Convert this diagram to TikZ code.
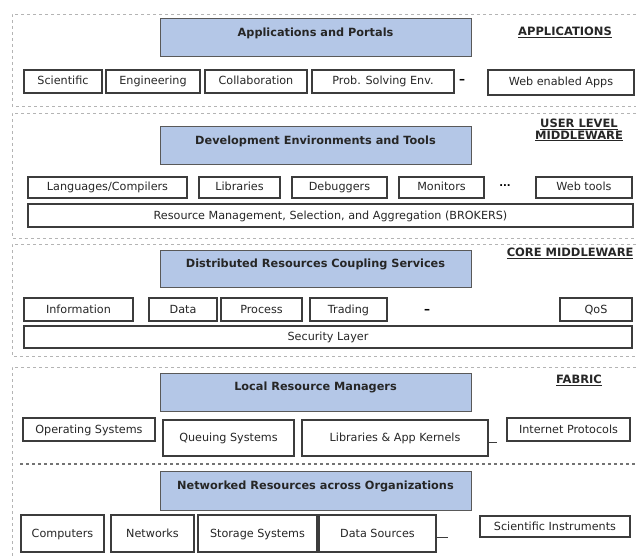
\documentclass[tikz,border=0pt]{standalone}
\usepackage{fontspec}
\setmainfont{DejaVu Sans}
\usetikzlibrary{calc}
\definecolor{layerblue}{HTML}{B4C7E7}
\definecolor{boxgray}{HTML}{3C3C3C}
\definecolor{dashgray}{HTML}{B4B4B4}

\begin{document}
\begin{tikzpicture}[x=1pt,y=-1pt,
    box/.style={draw=boxgray, line width=1.1pt, fill=white, inner sep=0pt,
        text height=9pt, text depth=2pt,
        font=\fontsize{11.2}{13}\selectfont, text=black!85},
    bluebox/.style={draw=boxgray!85, line width=1pt, fill=layerblue, inner sep=0pt,
        minimum width=311pt, minimum height=38pt, text height=8pt, text depth=11pt,
        font=\fontsize{11.3}{13}\selectfont\bfseries, text=black!85},
    layer/.style={draw=dashgray, dashed, line width=0.8pt},
    tag/.style={font=\fontsize{11.5}{13}\selectfont\bfseries, align=center, text=black!85}]

            \useasboundingbox (0,0) rectangle (637,556);

            \draw[layer] (636,14) -| (12,106) -- (636,106);
            \draw[layer] (636,113) -| (12,238) -- (636,238);
            \draw[layer] (636,244) -| (12,356) -- (636,356);
            \draw[layer] (636,367) -| (12,556);
            \draw[dashed, black!55, line width=1.2pt] (20,464) -- (637,464);

            \node[bluebox] (apps) at (315.5,38) {Applications and Portals};
            \node[tag] (tagapps) at (565,32) {\underline{APPLICATIONS}};
            \node[box, minimum width=78pt, minimum height=23pt] (sci) at (63,81.5) {Scientific};
            \node[box, minimum width=94pt, minimum height=23pt] (eng) at (153,81.5) {Engineering};
            \node[box, minimum width=102pt, minimum height=23pt] (collab) at (256,81.5) {Collaboration};
            \node[box, minimum width=142pt, minimum height=23pt] (pse) at (383,81.5) {Prob. Solving Env.};
            \node[font=\fontsize{12}{13}\selectfont\bfseries] (dash1) at (462,81) {--};
            \node[box, minimum width=146pt, minimum height=25pt] (webapps) at (561,82.5) {Web enabled Apps};

            \node[bluebox] (devtools) at (315.5,146) {Development Environments and Tools};
            \node[tag] (taguser) at (579,130) {\underline{USER LEVEL}\\[-1pt]\underline{MIDDLEWARE}};
            \node[box, minimum width=159pt, minimum height=21pt] (lang) at (107.5,187.5) {Languages/Compilers};
            \node[box, minimum width=81pt, minimum height=21pt] (libs) at (239.5,187.5) {Libraries};
            \node[box, minimum width=95pt, minimum height=21pt] (debug) at (339.5,187.5) {Debuggers};
            \node[box, minimum width=85pt, minimum height=21pt] (monit) at (441.5,187.5) {Monitors};
            \node[font=\bfseries] (dots1) at (505,185.5) {...};
            \node[box, minimum width=96pt, minimum height=21pt] (webtools) at (584,187.5) {Web tools};
            \node[box, minimum width=605pt, minimum height=23pt] (brokers) at (330.5,215.5) {Resource Management, Selection, and Aggregation (BROKERS)};

            \node[bluebox, minimum height=37pt] (coupling) at (315.5,268.5) {Distributed Resources Coupling Services};
            \node[tag, anchor=east] (tagcore) at (637,253) {\underline{CORE MIDDLEWARE}};
            \node[box, minimum width=109pt, minimum height=23pt] (info) at (78.5,309.5) {Information};
            \node[box, minimum width=68pt, minimum height=23pt] (data) at (183,309.5) {Data};
            \node[box, minimum width=81pt, minimum height=23pt] (proc) at (261.5,309.5) {Process};
            \node[box, minimum width=77pt, minimum height=23pt] (trade) at (348.5,309.5) {Trading};
            \node[font=\fontsize{12}{13}\selectfont\bfseries] (dash2) at (427,311) {--};
            \node[box, minimum width=72pt, minimum height=23pt] (qos) at (596,309.5) {QoS};
            \node[box, minimum width=608pt, minimum height=22pt] (secur) at (328,337) {Security Layer};

            \node[bluebox] (localrm) at (315.5,392) {Local Resource Managers};
            \node[tag] (tagfabric) at (579,380) {\underline{FABRIC}};
            \node[box, minimum width=132pt, minimum height=23pt] (opsys) at (89,429.5) {Operating Systems};
            \node[box, minimum width=131pt, minimum height=36pt] (queue) at (228.5,438) {Queuing Systems};
            \node[box, minimum width=186pt, minimum height=36pt] (kernels) at (395,438) {Libraries \& App Kernels};
            \coordinate (kend) at (497,442);
            \draw[boxgray, line width=1pt] (kernels.east |- kend) -- (kend);
            \node[box, minimum width=123pt, minimum height=23pt] (inet) at (568.5,429.5) {Internet Protocols};

            \node[bluebox, minimum height=39pt] (netres) at (315.5,490.5) {Networked Resources across Organizations};
            \node[box, minimum width=83pt, minimum height=37pt] (comp) at (62.5,533.5) {Computers};
            \node[box, minimum width=83pt, minimum height=37pt] (netw) at (152.5,533.5) {Networks};
            \node[box, minimum width=119pt, minimum height=37pt] (stor) at (257.5,533.5) {Storage Systems};
            \node[box, minimum width=117pt, minimum height=37pt] (dsrc) at (377.5,533.5) {Data Sources};
            \coordinate (dend) at (448,537);
            \draw[boxgray, line width=1pt] (dsrc.east |- dend) -- (dend);
            \node[box, minimum width=150pt, minimum height=21pt] (instr) at (555,526.5) {Scientific Instruments};
        \end{tikzpicture}
\end{document}
